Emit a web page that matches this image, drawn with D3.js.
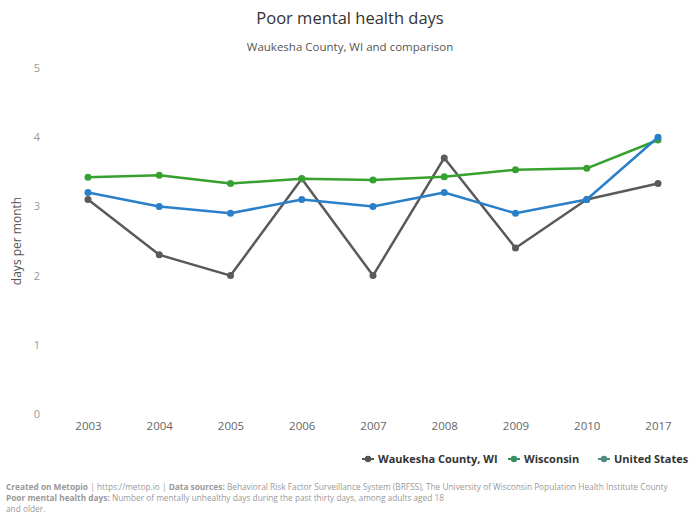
<!DOCTYPE html>
<html>
<head>
<meta charset="utf-8">
<script src="https://cdn.jsdelivr.net/npm/d3@7"></script>
<style>
  html, body { margin: 0; padding: 0; background: #fff; }
  svg { display: block; font-family: "Open Sans", "DejaVu Sans", sans-serif; }
</style>
</head>
<body>
<svg id="chart" width="691" height="524"></svg>
<script>
const years = ["2003", "2004", "2005", "2006", "2007", "2008", "2009", "2010", "2017"];
const waukesha = [3.1, 2.3, 2.0, 3.4, 2.0, 3.7, 2.4, 3.1, 3.33];
const wisconsin = [3.42, 3.45, 3.33, 3.4, 3.38, 3.43, 3.53, 3.55, 3.96];
const unitedStates = [3.2, 3.0, 2.9, 3.1, 3.0, 3.2, 2.9, 3.1, 4.0];
const yTicks = [0, 1, 2, 3, 4, 5];
const seriesNames = ["Waukesha County, WI", "Wisconsin", "United States"];
const seriesColors = ["#5a5a5a", "#36a12e", "#2a80c8"];
const legendColors = ["#555555", "#3a8f62", "#4f8a7e"];

const series = [waukesha, wisconsin, unitedStates].map((v, i) => ({
  name: seriesNames[i], color: seriesColors[i], values: v
}));

const svg = d3.select("#chart");

const x = d3.scalePoint().domain(years).range([88, 658]);
const y = d3.scaleLinear().domain([0, 5]).range([414, 68]);

// title
svg.append("text").attr("x", 350).attr("y", 24).attr("text-anchor", "middle")
  .attr("font-size", 16.5).attr("fill", "#333").text("Poor mental health days");
svg.append("text").attr("x", 350).attr("y", 51).attr("text-anchor", "middle")
  .attr("font-size", 11.5).attr("fill", "#555").text("Waukesha County, WI and comparison");

// y axis
const yAxis = d3.axisLeft(y).tickValues(yTicks).tickFormat(d3.format("d")).tickSize(0).tickPadding(0);
const yg = svg.append("g").attr("transform", "translate(40,0)").call(yAxis);
yg.select(".domain").remove();
yg.selectAll("text").attr("font-size", 11).attr("fill", "#999")
  .attr("font-family", "\"Open Sans\", sans-serif");

// x axis
const xAxis = d3.axisBottom(x).tickSize(0).tickPadding(0);
const xg = svg.append("g").attr("transform", "translate(0,422)").call(xAxis);
xg.select(".domain").remove();
xg.selectAll("text").attr("font-size", 11.5).attr("fill", "#666")
  .attr("font-family", "\"Open Sans\", sans-serif");

// y label
svg.append("text").attr("transform", "translate(21,241) rotate(-90)")
  .attr("text-anchor", "middle").attr("font-size", 12).attr("fill", "#555")
  .text("days per month");

// lines
const line = d3.line().x((d, i) => x(years[i])).y(d => y(d));
series.forEach(s => {
  const g = svg.append("g");
  g.append("path").datum(s.values).attr("d", line).attr("fill", "none")
    .attr("stroke", s.color).attr("stroke-width", 2.5)
    .attr("stroke-linejoin", "round");
  g.selectAll("circle").data(s.values).enter().append("circle")
    .attr("cx", (d, i) => x(years[i])).attr("cy", d => y(d)).attr("r", 3.5)
    .attr("fill", s.color);
});

// legend
const legendX = [362, 508, 598];
const lg = svg.append("g").attr("transform", "translate(0,459)");
series.forEach((s, i) => {
  const g = lg.append("g").attr("transform", `translate(${legendX[i]},0)`);
  g.append("line").attr("x1", 0).attr("x2", 12).attr("y1", 0).attr("y2", 0)
    .attr("stroke", legendColors[i]).attr("stroke-width", 2);
  g.append("circle").attr("cx", 6).attr("cy", 0).attr("r", 3.2).attr("fill", legendColors[i]);
  g.append("text").attr("x", 16).attr("y", 4).attr("font-size", 11)
    .attr("font-weight", "bold").attr("fill", "#333").text(s.name);
});

// footer
const foot = svg.append("g").attr("font-size", 8.3).attr("fill", "#999");
const l1 = foot.append("text").attr("x", 6).attr("y", 490);
l1.append("tspan").attr("font-weight", "bold").text("Created on Metopio");
l1.append("tspan").text(" | https://metop.io | ");
l1.append("tspan").attr("font-weight", "bold").text("Data sources: ");
l1.append("tspan").text("Behavioral Risk Factor Surveillance System (BRFSS), The University of Wisconsin Population Health Institute County");
const l2 = foot.append("text").attr("x", 6).attr("y", 501);
l2.append("tspan").attr("font-weight", "bold").text("Poor mental health days: ");
l2.append("tspan").text("Number of mentally unhealthy days during the past thirty days, among adults aged 18");
foot.append("text").attr("x", 6).attr("y", 512).text("and older.");
</script>
</body>
</html>
